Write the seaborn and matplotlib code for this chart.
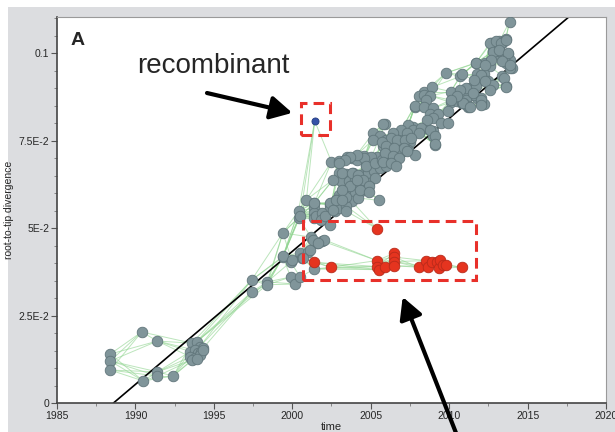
import numpy as np
import pandas as pd
import matplotlib
matplotlib.use("Agg")
import matplotlib.pyplot as plt
import seaborn as sns
from matplotlib.collections import LineCollection
from matplotlib.patches import Rectangle
from matplotlib.ticker import MultipleLocator

# tip dates (years) and root-to-tip divergence
gray_year = [
    1990.4, 1991.4, 1988.4, 1988.4, 1988.4, 1990.5, 1991.4, 1991.4, 1992.4,
    1993.6, 1993.9, 1994.1, 1994.3, 1993.5, 1993.8, 1994.0, 1994.2, 1993.5,
    1993.8, 1994.1, 1993.6, 1993.9, 1994.3,
    1997.4, 1997.4, 1998.4, 1998.4, 1999.4, 1999.4, 1999.9, 1999.9, 2000.2,
    2000.5, 2000.5, 2000.6, 2001.0, 2001.2, 2001.6, 2001.9, 2001.4, 2000.4,
    2000.4, 2001.4, 2001.4, 2001.4, 2001.4, 2002.4, 1999.4, 1999.95, 2001.1,
    2000.7,
    2002.5, 2003.0, 2003.5, 2003.8, 2004.1, 2004.6, 2005.1, 2005.4, 2005.9,
    2006.4, 2006.7, 2004.7, 2003.0, 2003.45, 2003.9, 2003.1, 2003.6, 2004.0,
    2004.2, 2004.5, 2004.8, 2005.2, 2005.6, 2004.4, 2003.8, 2003.45, 2004.2,
    2004.6, 2004.9, 2005.3, 2003.6, 2004.0, 2004.4, 2004.8, 2003.0, 2002.8,
    2002.5, 2003.3, 2003.8, 2004.2, 2002.4, 2002.7, 2003.0, 2003.45, 2003.45,
    2005.5, 2001.5, 2001.9, 2000.5, 2001.8, 2002.1, 2002.4, 2002.0, 2001.3,
    2001.65,
    2005.15, 2005.6, 2005.15, 2006.0, 2006.4, 2006.85, 2007.3, 2007.7, 2008.1,
    2008.55, 2009.0, 2009.0, 2009.1, 2005.8, 2006.2, 2006.6, 2007.1, 2007.5,
    2006.3, 2006.85, 2007.4, 2007.8, 2005.05, 2004.6, 2004.1, 2003.7, 2003.35,
    2003.0, 2003.2, 2003.8, 2004.2, 2004.7, 2005.3, 2005.7, 2006.0, 2006.4,
    2004.5, 2004.9, 2003.7, 2003.45, 2004.3, 2000.9, 2001.4, 2002.4, 2002.8,
    2003.2, 2002.6, 2004.1, 2002.6, 2003.2, 2004.9, 2005.9, 2007.8, 2008.4,
    2008.9, 2009.8, 2010.7,
    2008.1, 2008.4, 2008.8, 2008.5, 2010.1, 2010.7, 2011.0, 2007.8, 2008.4,
    2009.0, 2010.1, 2010.5, 2010.8, 2011.2, 2011.8, 2012.2, 2008.8, 2009.3,
    2009.9, 2009.0, 2008.6, 2009.5, 2009.9, 2005.8, 2007.4, 2006.95, 2007.7,
    2008.2, 2008.8, 2006.4, 2007.3, 2008.1, 2009.1, 2009.1, 2006.3, 2006.7,
    2007.2, 2007.6, 2005.7, 2006.0, 2006.5, 2007.1, 2007.3, 2005.9, 2006.4,
    2006.8, 2005.8, 2006.3, 2006.6,
    2013.85, 2012.7, 2013.2, 2013.6, 2013.0, 2013.4, 2012.8, 2012.9, 2013.2,
    2013.75, 2013.85, 2013.6, 2014.0, 2011.7, 2012.3, 2012.6, 2010.8, 2011.8,
    2012.2, 2012.0, 2012.5, 2013.4, 2013.6, 2012.8, 2011.3, 2011.7, 2011.0,
    2011.6, 2012.0, 2011.1, 2012.05, 2010.9, 2011.2,
    2012.6, 2013.0, 2013.3, 2013.6, 2012.8, 2013.2, 2013.75, 2012.7, 2013.4,
    2013.85, 2013.5, 2013.65, 2011.7, 2012.3, 2012.05, 2011.6, 2012.3, 2012.6,
    2011.1, 2010.7, 2011.5, 2012.0, 2012.05, 2010.9, 2011.3, 2010.5, 2010.1,
    2013.85,
]
gray_div = [
    0.0203, 0.0177, 0.0140, 0.0120, 0.0094, 0.0063, 0.0089, 0.0077, 0.0077,
    0.0171, 0.0175, 0.0161, 0.0156, 0.0147, 0.0151, 0.0144, 0.0147, 0.0132,
    0.0129, 0.0137, 0.0123, 0.0125, 0.0151,
    0.0351, 0.0317, 0.0346, 0.0338, 0.0486, 0.0417, 0.0403, 0.0360, 0.0340,
    0.0360, 0.0429, 0.0414, 0.0431, 0.0474, 0.0457, 0.0463, 0.0383, 0.0549,
    0.0529, 0.0571, 0.0557, 0.0543, 0.0529, 0.0566, 0.0419, 0.0410, 0.0438,
    0.0414,
    0.0689, 0.0691, 0.0703, 0.0700, 0.0694, 0.0706, 0.0700, 0.0703, 0.0711,
    0.0714, 0.0703, 0.0680, 0.0657, 0.0655, 0.0657, 0.0633, 0.0633, 0.0638,
    0.0648, 0.0653, 0.0657, 0.0662, 0.0672, 0.0629, 0.0619, 0.0610, 0.0614,
    0.0619, 0.0629, 0.0643, 0.0591, 0.0600, 0.0605, 0.0610, 0.0595, 0.0581,
    0.0572, 0.0572, 0.0576, 0.0586, 0.0557, 0.0548, 0.0557, 0.0562, 0.0548,
    0.0579, 0.0534, 0.0543, 0.0534, 0.0524, 0.0534, 0.0510, 0.0467, 0.0467,
    0.0457,
    0.0771, 0.0762, 0.0752, 0.0752, 0.0762, 0.0771, 0.0781, 0.0790, 0.0776,
    0.0785, 0.0776, 0.0762, 0.0738, 0.0733, 0.0733, 0.0733, 0.0743, 0.0747,
    0.0714, 0.0714, 0.0724, 0.0709, 0.0704, 0.0700, 0.0709, 0.0704, 0.0695,
    0.0685, 0.0657, 0.0657, 0.0652, 0.0676, 0.0685, 0.0695, 0.0676, 0.0695,
    0.0638, 0.0619, 0.0619, 0.0590, 0.0609, 0.0581, 0.0571, 0.0571, 0.0581,
    0.0609, 0.0638, 0.0638, 0.0552, 0.0581, 0.0604, 0.0798, 0.0847, 0.0890,
    0.0902, 0.0943, 0.0933,
    0.0876, 0.0881, 0.0878, 0.0866, 0.0890, 0.0885, 0.0890, 0.0849, 0.0845,
    0.0843, 0.0859, 0.0862, 0.0857, 0.0847, 0.0871, 0.0855, 0.0826, 0.0826,
    0.0833, 0.0814, 0.0809, 0.0800, 0.0800, 0.0797, 0.0795, 0.0781, 0.0781,
    0.0786, 0.0779, 0.0771, 0.0771, 0.0771, 0.0762, 0.0740, 0.0757, 0.0752,
    0.0752, 0.0757, 0.0747, 0.0733, 0.0728, 0.0728, 0.0719, 0.0714, 0.0705,
    0.0700, 0.0690, 0.0686, 0.0676,
    0.1089, 0.1029, 0.1034, 0.1041, 0.1020, 0.1029, 0.1005, 0.0996, 0.1005,
    0.0996, 0.0981, 0.0972, 0.0958, 0.0972, 0.0972, 0.0962, 0.0939, 0.0939,
    0.0939, 0.0924, 0.0920, 0.0934, 0.0905, 0.0910, 0.0900, 0.0905, 0.0886,
    0.0881, 0.0872, 0.0867, 0.0858, 0.0858, 0.0848,
    0.1028, 0.1033, 0.1028, 0.1038, 0.1004, 0.1009, 0.0999, 0.0981, 0.0976,
    0.0957, 0.0928, 0.0904, 0.0971, 0.0966, 0.0938, 0.0923, 0.0919, 0.0895,
    0.0900, 0.0895, 0.0885, 0.0866, 0.0852, 0.0857, 0.0847, 0.0876, 0.0866,
    0.0966,
]

red_year = [2005.4, 2001.4, 2002.45, 2005.4, 2005.4, 2005.5, 2005.9, 2006.5,
            2006.5, 2006.5, 2006.5, 2008.05, 2008.5, 2008.65, 2008.9, 2009.2,
            2009.35, 2009.4, 2009.6, 2009.8, 2010.8]
red_div = [0.0498, 0.0402, 0.0388, 0.0407, 0.0390, 0.0381, 0.0388, 0.0428,
           0.0417, 0.0404, 0.0392, 0.0388, 0.0407, 0.0390, 0.0402, 0.0402,
           0.0385, 0.0409, 0.0395, 0.0395, 0.0388]

blue_year = [2001.43]
blue_div = [0.0806]

# root-to-tip regression
clock_rate = 0.0038
root_date = 1988.6

# highlight boxes: (x0, x1, y0, y1)
box_recomb = (2000.55, 2002.4, 0.0767, 0.0858)
box_outlier = (2000.7, 2011.7, 0.0352, 0.0521)

xtick_vals = [1985, 1990, 1995, 2000, 2005, 2010, 2015, 2020]
ytick_vals = [0, 0.025, 0.05, 0.075, 0.1]
ytick_labels = ["0", "2.5E-2", "5E-2", "7.5E-2", "0.1"]

df = pd.DataFrame({
    "year": gray_year + red_year + blue_year,
    "div": gray_div + red_div + blue_div,
    "group": ["gray"] * len(gray_year) + ["red"] * len(red_year) + ["blue"] * len(blue_year),
})

sns.set_style("white")
plt.rcParams["font.family"] = ["Liberation Sans", "DejaVu Sans"]

W, H = 615, 432
fig = plt.figure(figsize=(W / 100, H / 100), dpi=100)
fig.patches.append(Rectangle((8 / W, 0), 1, (H - 7) / H, transform=fig.transFigure,
                             facecolor="#dcdde0", edgecolor="none", zorder=-10))
ax = fig.add_axes([57 / W, (H - 403) / H, 549 / W, 386 / H])
ax.set_facecolor("white")

# light green links: each tip to its closest earlier tips
yr = df["year"].to_numpy()
dv = df["div"].to_numpy()
segs = []
for i in range(len(df)):
    earlier = np.where(yr < yr[i] - 0.2)[0]
    if len(earlier) == 0:
        continue
    d = ((yr[earlier] - yr[i]) / 35) ** 2 + ((dv[earlier] - dv[i]) / 0.11) ** 2
    for j in earlier[np.argsort(d)[:3]]:
        segs.append([(yr[i], dv[i]), (yr[j], dv[j])])
ax.add_collection(LineCollection(segs, colors="#8fd48f", linewidths=0.7, alpha=0.6, zorder=1))

# regression line
line_x = np.array([root_date, 2020.0])
sns.lineplot(x=line_x, y=(line_x - root_date) * clock_rate, color="black", lw=1.2, ax=ax, zorder=2)

styles = {
    "gray": dict(color="#80959a", edgecolor="#61767b", s=58),
    "red": dict(color="#e5341f", edgecolor="#b82a1a", s=58),
    "blue": dict(color="#3552a8", edgecolor="#223b80", s=26),
}
for g, st in styles.items():
    sns.scatterplot(data=df[df["group"] == g], x="year", y="div", ax=ax,
                    linewidth=0.6, zorder=3, legend=False, **st)

for x0, x1, y0, y1 in (box_recomb, box_outlier):
    ax.add_patch(Rectangle((x0, y0), x1 - x0, y1 - y0, fill=False, edgecolor="#e8302a",
                           lw=2.2, linestyle=(0, (3.5, 2)), zorder=4))

ax.set_xlim(1985, 2020)
ax.set_ylim(0, 0.1103)
ax.set_xticks(xtick_vals)
ax.set_yticks(ytick_vals)
ax.set_yticklabels(ytick_labels)
ax.xaxis.set_minor_locator(MultipleLocator(2.5))
ax.yaxis.set_minor_locator(MultipleLocator(0.005))
ax.tick_params(which="major", direction="out", length=4, width=0.8, color="#555555",
               labelsize=7.5, pad=1.5, left=True, bottom=True)
ax.tick_params(which="minor", direction="out", length=2, width=0.6, color="#777777",
               left=True, bottom=True)
for s in ("left", "bottom"):
    ax.spines[s].set_color("#444444")
    ax.spines[s].set_linewidth(1.2)
for s in ("top", "right"):
    ax.spines[s].set_color("#9a9a9a")
    ax.spines[s].set_linewidth(0.8)

ax.set_xlabel("time", fontsize=8, labelpad=1)
ax.set_ylabel("root-to-tip divergence", fontsize=7.5, labelpad=3)

ax.text(0.024, 0.962, "A", transform=ax.transAxes, fontsize=14, fontweight="bold",
        va="top", ha="left")
fig.text(137 / W, (H - 73) / H, "recombinant", fontsize=20, ha="left", va="baseline")

arrow = dict(arrowstyle="-|>,head_length=0.65,head_width=0.35", lw=3, color="black",
             mutation_scale=20, shrinkA=0, shrinkB=0)
ax.annotate("", xy=(2000.0, 0.0829), xycoords="data",
            xytext=(207, H - 93), textcoords="figure pixels", arrowprops=arrow,
            annotation_clip=False)
ax.annotate("", xy=(2007.04, 0.0303), xycoords="data",
            xytext=(458, -6), textcoords="figure pixels", arrowprops=arrow,
            annotation_clip=False)

fig.savefig("out.png", dpi=100)
